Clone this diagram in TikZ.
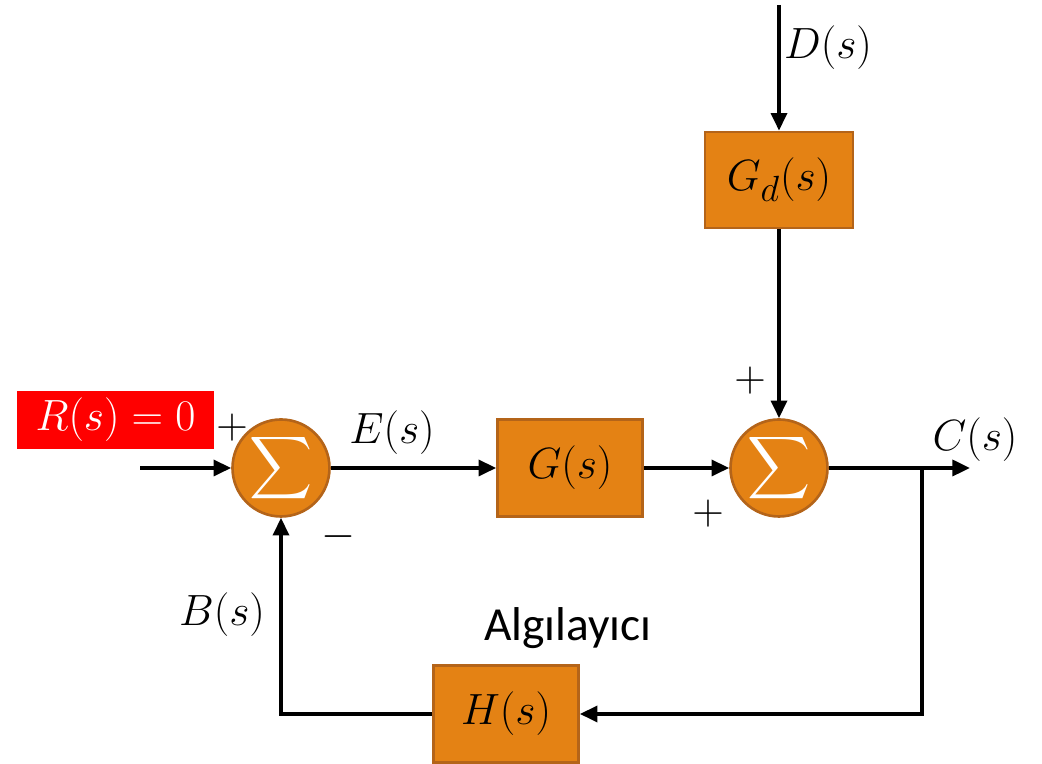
\documentclass[tikz,border=0pt]{standalone}
\usepackage{fontspec}
\usepackage{amsmath}
\usetikzlibrary{positioning,arrows.meta}
\newfontfamily\labelfont{Carlito}
\definecolor{blockfill}{RGB}{228,130,20}
\definecolor{blockline}{RGB}{180,100,25}
\begin{document}
\begin{tikzpicture}[
          >={Triangle[length=10pt,width=9pt]},
          block/.style={rectangle, draw=blockline, line width=1.5pt,
              fill=blockfill, minimum width=2.9cm, minimum height=1.94cm,
              font=\fontsize{28}{32}\selectfont},
          sumnode/.style={circle, draw=blockline, line width=1.5pt,
              fill=blockfill, minimum size=1.94cm, inner sep=0pt,
              text=white, font=\fontsize{27}{30}\selectfont},
          sig/.style={font=\fontsize{28}{32}\selectfont, inner sep=1pt},
          arr/.style={->, line width=2.2pt},
          wire/.style={line width=2.2pt}
        ]
        \useasboundingbox (0,0) rectangle (20.84,15.28);
        \node[sumnode] (sum1) at (5.62,5.92) {$\displaystyle\sum$};
        \node[block] (g)  at (11.4,5.92) {$G(s)$};
        \node[sumnode] (sum2) at (15.58,5.92) {$\displaystyle\sum$};
        \node[block, minimum width=2.96cm, minimum height=1.92cm] (gd) at (15.58,11.68) {$G_d(s)$};
        \node[block] (h)  at (10.12,1.0) {$H(s)$};
        \coordinate (rin)  at (2.8,5.92);
        \coordinate (din)  at (15.58,15.18);
        \coordinate (cout) at (19.4,5.92);
        \coordinate (tap)  at (18.44,5.92);
        \coordinate (tapd) at (18.44,1.0);
        \coordinate (bfd)  at (5.62,1.0);
        \node[rectangle, fill=red, text=white, minimum width=3.94cm, minimum height=1.16cm,
              inner sep=1pt, font=\fontsize{28}{32}\selectfont] (rlab) at (2.31,6.88) {$R(s)=0$};
        \node[sig] (p1) at (4.64,6.72) {$+$};
        \node[sig] (elab) at (7.84,6.62) {$E(s)$};
        \node[sig] (m1) at (6.76,4.54) {$-$};
        \node[sig] (p2) at (14.16,5.0) {$+$};
        \node[sig] (p3) at (15.0,7.66) {$+$};
        \node[sig] (dlab) at (16.56,14.32) {$D(s)$};
        \node[sig] (clab) at (19.5,6.48) {$C(s)$};
        \node[sig] (blab) at (4.44,2.98) {$B(s)$};
        \node[font=\labelfont\fontsize{27}{31}\selectfont] (alab) at (11.36,2.72) {Algılayıcı};
        \draw[arr] (rin) -- (sum1);
        \draw[arr] (sum1) -- (g);
        \draw[arr] (g) -- (sum2);
        \draw[arr] (din) -- (gd);
        \draw[arr] (gd) -- (sum2);
        \draw[arr] (sum2) -- (cout);
        \draw[arr] (tap) -- (tapd) -- (h);
        \draw[arr] (h) -- (bfd) -- (sum1);
      \end{tikzpicture}
\end{document}
